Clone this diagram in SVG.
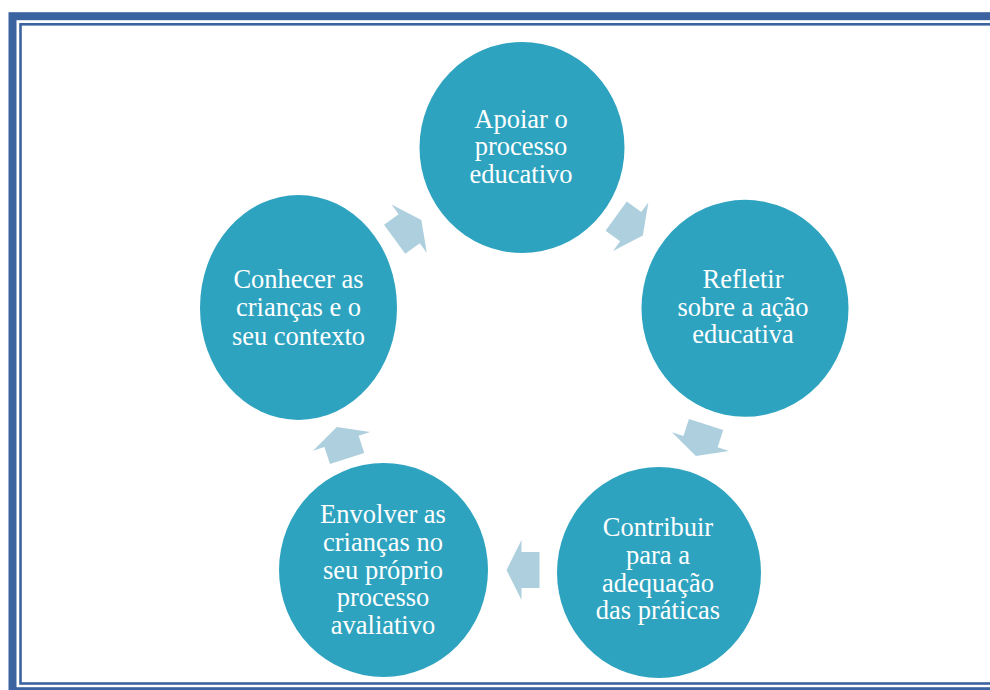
<svg xmlns="http://www.w3.org/2000/svg" width="990" height="690" viewBox="0 0 990 690">
<style>
.frame{fill:none;stroke:#3a63a0}
.node{fill:#2ea3c0}
.lbl{font-family:"Liberation Serif","Times New Roman",serif;font-size:26.5px;fill:#ffffff;text-anchor:middle}
.arr{fill:#aecfdd}
</style>
<defs>
<polygon id="arrow" points="-16.5,-18 1.5,-18 1.5,-30 16.5,0 1.5,30 1.5,18 -16.5,18"/>
</defs>
<rect width="990" height="690" fill="#ffffff"/>
<g id="frame">
<rect class="frame" x="12.5" y="16.2" width="1000" height="675" stroke-width="8"/>
<rect class="frame" x="20.5" y="24.3" width="1000" height="659.2" stroke-width="2.6"/>
</g>
<g id="connectors">
<use href="#arrow" class="arr" transform="translate(629.5,225.8) rotate(36)"/>
<use href="#arrow" class="arr" transform="translate(701,440.2) rotate(108)"/>
<use href="#arrow" class="arr" transform="translate(523,570) rotate(180)"/>
<use href="#arrow" class="arr" transform="translate(342,442.8) rotate(252)"/>
<use href="#arrow" class="arr" transform="translate(408,229.6) rotate(324)"/>
</g>
<g id="node-apoiar">
<ellipse class="node" cx="522" cy="147.5" rx="102.5" ry="105.5"/>
<text class="lbl" x="521" y="128">Apoiar o</text>
<text class="lbl" x="521" y="155.3">processo</text>
<text class="lbl" x="521" y="182.6">educativo</text>
</g>
<g id="node-refletir">
<ellipse class="node" cx="745" cy="308.3" rx="103.5" ry="108.5"/>
<text class="lbl" x="743" y="288.3">Refletir</text>
<text class="lbl" x="743" y="315.8">sobre a ação</text>
<text class="lbl" x="743" y="343.3">educativa</text>
</g>
<g id="node-contribuir">
<ellipse class="node" cx="659" cy="572.5" rx="102" ry="105.5"/>
<text class="lbl" x="658" y="536">Contribuir</text>
<text class="lbl" x="658" y="563.5">para a</text>
<text class="lbl" x="658" y="591.5">adequação</text>
<text class="lbl" x="658" y="619.3">das práticas</text>
</g>
<g id="node-envolver">
<ellipse class="node" cx="383.5" cy="570" rx="104.5" ry="107"/>
<text class="lbl" x="383" y="523.3">Envolver as</text>
<text class="lbl" x="383" y="551">crianças no</text>
<text class="lbl" x="383" y="578.5">seu próprio</text>
<text class="lbl" x="383" y="606">processo</text>
<text class="lbl" x="383" y="633.5">avaliativo</text>
</g>
<g id="node-conhecer">
<ellipse class="node" cx="298.5" cy="307.5" rx="98.5" ry="112.5"/>
<text class="lbl" x="298.5" y="288.3">Conhecer as</text>
<text class="lbl" x="298.5" y="316.3">crianças e o</text>
<text class="lbl" x="298.5" y="344.5">seu contexto</text>
</g>
</svg>
